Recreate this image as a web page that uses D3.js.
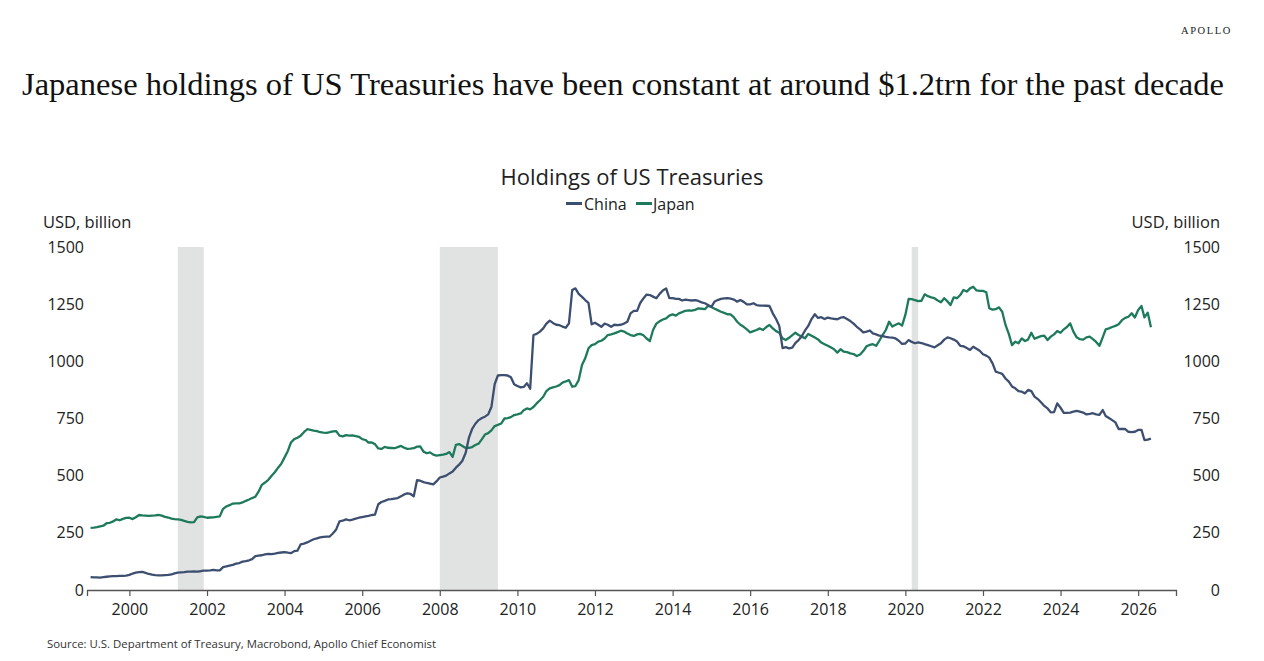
<!DOCTYPE html>
<html>
<head>
<meta charset="utf-8">
<script src="https://cdn.jsdelivr.net/npm/d3@7"></script>
<style>
  html, body { margin: 0; padding: 0; background: #fff; }
  svg { display: block; }
</style>
</head>
<body>
<svg id="chart" width="1264" height="661"></svg>
<script>
// ---------------- DATA ----------------
const seriesNames = ["China", "Japan"];
const startMonth = "1999-01"; // first monthly observation
const yTicks = [0, 250, 500, 750, 1000, 1250, 1500];
const xTickYears = [2000, 2002, 2004, 2006, 2008, 2010, 2012, 2014, 2016, 2018, 2020, 2022, 2024, 2026];
const recessions = [["2001-04-01", "2001-12-01"], ["2008-01-01", "2009-07-01"], ["2020-03-01", "2020-05-01"]];

// China holdings, USD bn, monthly from Jan 1999
const china = [
  56, 55, 55, 54, 56, 58, 60, 61, 61, 62, 62, 63,            // 1999
  66, 72, 76, 78, 79, 75, 70, 67, 65, 64, 64, 65,            // 2000
  66, 68, 73, 76, 77, 78, 80, 80, 81, 80, 82, 85,            // 2001
  85, 86, 88, 86, 86, 100, 103, 107, 110, 115, 118, 124,     // 2002
  126, 130, 135, 148, 150, 152, 156, 158, 157, 159, 162, 164, // 2003
  166, 163, 161, 170, 172, 200, 203, 208, 215, 222, 226, 230, // 2004
  232, 233, 234, 248, 265, 300, 303, 309, 305, 308, 312, 316, // 2005
  319, 322, 324, 328, 330, 375, 385, 390, 396, 397, 400, 402, // 2006
  410, 418, 423, 420, 410, 480, 478, 472, 468, 465, 462, 475, // 2007
  492, 496, 500, 510, 518, 535, 548, 565, 600, 665, 705, 727, // 2008
  743, 752, 758, 768, 800, 900, 938, 940, 940, 938, 930, 900, // 2009
  892, 886, 888, 904, 880, 1115, 1120, 1130, 1144, 1165, 1178, 1168, // 2010
  1160, 1158, 1152, 1147, 1166, 1312, 1319, 1295, 1282, 1268, 1256, 1162, // 2011
  1169, 1160, 1151, 1165, 1160, 1151, 1160, 1158, 1160, 1165, 1173, 1210, // 2012
  1221, 1221, 1254, 1275, 1292, 1290, 1283, 1276, 1295, 1310, 1319, 1276, // 2013
  1276, 1273, 1273, 1266, 1270, 1268, 1266, 1268, 1264, 1258, 1254, 1246, // 2014
  1238, 1262, 1268, 1273, 1275, 1276, 1274, 1270, 1261, 1268, 1260, 1249, // 2015
  1249, 1254, 1246, 1244, 1244, 1243, 1242, 1210, 1185, 1155, 1058, 1062, // 2016
  1057, 1060, 1080, 1093, 1110, 1135, 1155, 1185, 1206, 1190, 1193, 1185, // 2017
  1191, 1188, 1186, 1184, 1191, 1193, 1185, 1176, 1165, 1151, 1140, 1127, // 2018
  1130, 1135, 1122, 1118, 1112, 1110, 1107, 1105, 1104, 1100, 1090, 1076, // 2019
  1078, 1093, 1085, 1079, 1083, 1080, 1075, 1071, 1066, 1061, 1070, 1079, // 2020
  1095, 1105, 1101, 1095, 1087, 1068, 1066, 1058, 1050, 1064, 1055, 1046, // 2021
  1031, 1025, 1016, 991, 955, 950, 945, 925, 911, 890, 882, 870,          // 2022
  867, 860, 875, 870, 846, 835, 821, 805, 794, 777, 778, 816,             // 2023
  797, 775, 775, 776, 780, 783, 780, 776, 768, 770, 773, 768,             // 2024
  766, 787, 761, 752, 743, 733, 704, 704, 704, 692, 690, 692,             // 2025
  700, 700, 656, 658, 662                                                 // 2026
];

// Japan holdings, USD bn, monthly from Jan 1999
const japan = [
  272, 273, 275, 278, 281, 292, 294, 300, 309, 305, 311, 315, // 1999
  316, 310, 318, 328, 326, 325, 324, 325, 326, 328, 325, 320, // 2000
  317, 312, 310, 309, 307, 302, 298, 296, 297, 318, 322, 320, // 2001
  316, 317, 318, 320, 322, 355, 365, 371, 378, 379, 379, 383, // 2002
  390, 396, 402, 408, 430, 460, 470, 482, 500, 515, 535, 552, // 2003
  580, 608, 645, 660, 666, 675, 690, 703, 700, 697, 695, 690, // 2004
  688, 687, 690, 694, 695, 675, 672, 677, 675, 676, 673, 670, // 2005
  660, 656, 645, 645, 638, 619, 617, 626, 622, 621, 620, 625, // 2006
  630, 622, 617, 618, 620, 627, 628, 605, 598, 602, 592, 588, // 2007
  590, 592, 595, 603, 582, 635, 638, 630, 621, 622, 625, 634, // 2008
  640, 660, 680, 686, 698, 717, 722, 728, 750, 752, 756, 765, // 2009
  768, 772, 786, 794, 790, 800, 816, 830, 845, 870, 882, 886, // 2010
  890, 896, 907, 912, 918, 889, 892, 918, 984, 1013, 1057, 1071, // 2011
  1075, 1086, 1090, 1100, 1115, 1118, 1122, 1128, 1134, 1130, 1122, 1115, // 2012
  1111, 1118, 1120, 1114, 1100, 1089, 1137, 1165, 1175, 1183, 1188, 1200, // 2013
  1205, 1200, 1210, 1215, 1221, 1223, 1222, 1225, 1232, 1230, 1228, 1243, // 2014
  1238, 1230, 1224, 1217, 1212, 1206, 1205, 1192, 1173, 1160, 1151, 1140, // 2015
  1127, 1132, 1137, 1144, 1137, 1150, 1159, 1144, 1132, 1125, 1101, 1093, // 2016
  1103, 1115, 1125, 1115, 1108, 1101, 1120, 1112, 1104, 1096, 1082, 1075, // 2017
  1068, 1060, 1053, 1038, 1053, 1042, 1040, 1035, 1032, 1023, 1030, 1045, // 2018
  1066, 1072, 1075, 1068, 1090, 1115, 1137, 1173, 1152, 1160, 1166, 1156, // 2019
  1203, 1273, 1272, 1268, 1263, 1265, 1293, 1285, 1280, 1276, 1266, 1258, // 2020
  1276, 1262, 1246, 1280, 1276, 1290, 1312, 1305, 1319, 1326, 1310, 1308, // 2021
  1308, 1302, 1232, 1226, 1228, 1236, 1217, 1159, 1120, 1071, 1086, 1079, // 2022
  1100, 1089, 1095, 1125, 1099, 1105, 1110, 1112, 1093, 1108, 1118, 1133, // 2023
  1125, 1140, 1150, 1166, 1130, 1105, 1097, 1095, 1105, 1108, 1097, 1085, // 2024
  1068, 1105, 1140, 1144, 1150, 1155, 1162, 1180, 1190, 1195, 1210, 1192, // 2025
  1225, 1242, 1192, 1213, 1149                                            // 2026
];

// ---------------- DRAW ----------------
const svg = d3.select("#chart");
const colors = { China: "#3d4f70", Japan: "#1e7a5c" };
const axisFont = "'Open Sans', 'Noto Sans', sans-serif";

const parseMonth = d3.timeParse("%Y-%m");
const parseDay = d3.timeParse("%Y-%m-%d");
const t0 = parseMonth(startMonth);
const dates = china.map((_, i) => d3.timeMonth.offset(t0, i));

const x = d3.scaleTime()
  .domain([new Date(1998, 10, 28), new Date(2026, 11, 23)])
  .range([87, 1176]);
const y = d3.scaleLinear().domain([0, 1500]).range([590, 247]);

// Header
svg.append("text")
  .attr("x", 1232).attr("y", 34)
  .attr("text-anchor", "end")
  .attr("font-family", "'Liberation Serif', serif")
  .attr("font-size", 10.5)
  .attr("letter-spacing", "1.6px")
  .attr("fill", "#222")
  .text("APOLLO");

svg.append("text")
  .attr("x", 22).attr("y", 95)
  .attr("font-family", "'Liberation Serif', 'DejaVu Serif', serif")
  .attr("font-size", 31.5)
  .attr("textLength", 1202)
  .attr("lengthAdjust", "spacingAndGlyphs")
  .attr("fill", "#111")
  .text("Japanese holdings of US Treasuries have been constant at around $1.2trn for the past decade");

// Chart title
svg.append("text")
  .attr("x", 632).attr("y", 185)
  .attr("text-anchor", "middle")
  .attr("font-family", axisFont)
  .attr("font-size", 22)
  .attr("fill", "#222")
  .text("Holdings of US Treasuries");

// Legend
const legendItems = [
  { name: "China", sx: 566, tx: 584 },
  { name: "Japan", sx: 636, tx: 653 }
];
const lg = svg.append("g");
legendItems.forEach(it => {
  lg.append("line")
    .attr("x1", it.sx).attr("x2", it.sx + 16)
    .attr("y1", 203.5).attr("y2", 203.5)
    .attr("stroke", colors[it.name]).attr("stroke-width", 3);
  lg.append("text")
    .attr("x", it.tx).attr("y", 209.5)
    .attr("font-family", axisFont)
    .attr("font-size", 16)
    .attr("fill", "#222")
    .text(it.name);
});

// Axis unit labels
svg.append("text")
  .attr("x", 43).attr("y", 228)
  .attr("font-family", axisFont).attr("font-size", 16.5).attr("fill", "#222")
  .text("USD, billion");
svg.append("text")
  .attr("x", 1220).attr("y", 228)
  .attr("text-anchor", "end")
  .attr("font-family", axisFont).attr("font-size", 16.5).attr("fill", "#222")
  .text("USD, billion");

// Recession shading
svg.append("g").selectAll("rect")
  .data(recessions)
  .join("rect")
  .attr("x", d => x(parseDay(d[0])))
  .attr("width", d => x(parseDay(d[1])) - x(parseDay(d[0])))
  .attr("y", y(1500))
  .attr("height", y(0) - y(1500))
  .attr("fill", "#e1e3e2");

// Y axes (labels only)
const yLeft = svg.append("g")
  .attr("transform", "translate(84,0)")
  .call(d3.axisLeft(y).tickValues(yTicks).tickSize(0).tickPadding(0).tickFormat(d3.format("d")));
const yRight = svg.append("g")
  .attr("transform", "translate(1220,0)")
  .call(d3.axisLeft(y).tickValues(yTicks).tickSize(0).tickPadding(0).tickFormat(d3.format("d")));
[yLeft, yRight].forEach(g => {
  g.select(".domain").remove();
  g.selectAll("text")
    .attr("font-family", axisFont)
    .attr("font-size", 16)
    .attr("fill", "#222");
});

// X axis
const xAxis = svg.append("g")
  .attr("transform", `translate(0,${y(0)})`)
  .call(d3.axisBottom(x)
    .tickValues(xTickYears.map(yr => new Date(yr, 0, 1)))
    .tickSize(6).tickPadding(8)
    .tickFormat(d3.timeFormat("%Y")));
xAxis.select(".domain").attr("stroke", "#555").attr("stroke-width", 1.3);
xAxis.selectAll(".tick line").attr("stroke", "#555").attr("stroke-width", 1.2);
xAxis.selectAll("text")
  .attr("font-family", axisFont)
  .attr("font-size", 16)
  .attr("fill", "#222");

// Lines
const line = d3.line()
  .x((d, i) => x(dates[i]))
  .y(d => y(d));

svg.append("path")
  .datum(japan)
  .attr("fill", "none")
  .attr("stroke", colors.Japan)
  .attr("stroke-width", 2.3)
  .attr("stroke-linejoin", "round")
  .attr("d", line);

svg.append("path")
  .datum(china)
  .attr("fill", "none")
  .attr("stroke", colors.China)
  .attr("stroke-width", 2.3)
  .attr("stroke-linejoin", "round")
  .attr("d", line);

// Source
svg.append("text")
  .attr("x", 47).attr("y", 648)
  .attr("font-family", axisFont)
  .attr("font-size", 11.4)
  .attr("fill", "#333")
  .text("Source: U.S. Department of Treasury, Macrobond, Apollo Chief Economist");
</script>
</body>
</html>
